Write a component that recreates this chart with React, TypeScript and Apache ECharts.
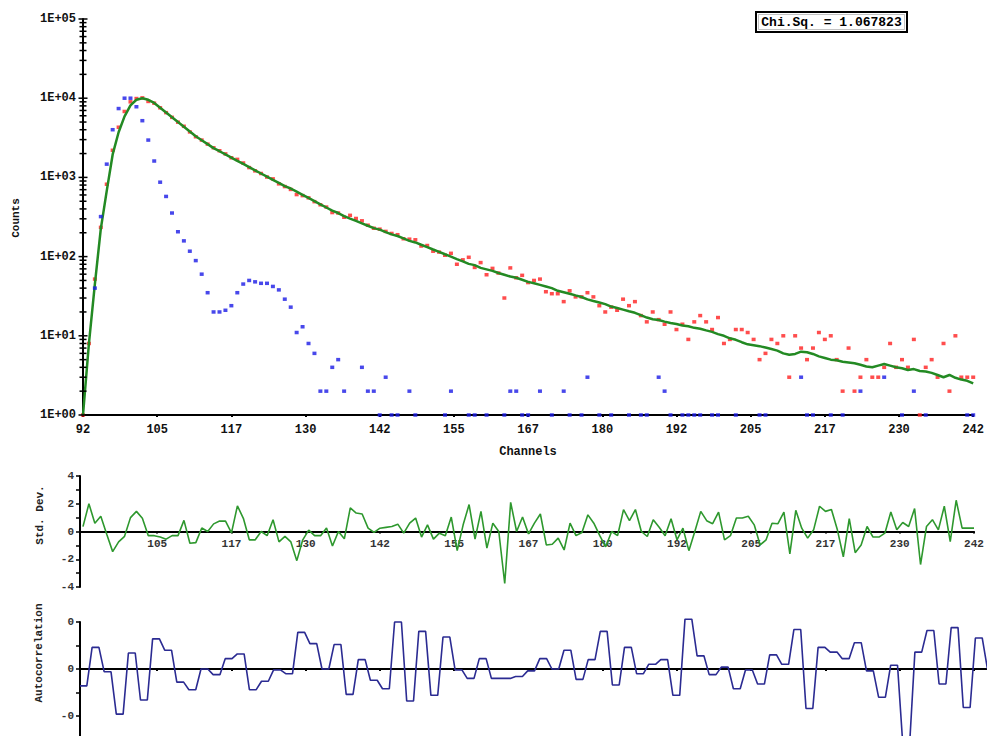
import React, { useEffect, useRef } from "react";
import * as echarts from "echarts";

// ---------- data ----------
const FIRST_CHANNEL = 92;
const X_TICKS = [92, 104.5, 117, 129.5, 142, 154.5, 167, 179.5, 192, 204.5, 217, 229.5, 242];
const DECADES = [1, 10, 100, 1000, 10000];
const MINOR_STEPS = [1, 2, 3, 4, 5, 6, 7, 8, 9];
const CHI_SQ = "Chi.Sq. = 1.067823";

// fitted decay (green), channels 92..242
const FIT = [
  1, 8, 45, 224, 676, 1950, 3720, 5890, 8130, 9550,
  10000, 9550, 8710, 7590, 6610, 5750, 5010, 4370, 3800, 3310,
  2950, 2630, 2340, 2140, 1950, 1780, 1620, 1480, 1350, 1230,
  1120, 1020, 933, 851, 776, 724, 661, 603, 550, 501,
  457, 417, 380, 355, 324, 302, 282, 263, 245, 229,
  219, 204, 191, 182, 170, 158, 151, 141, 132, 123,
  115, 107, 100, 93, 87, 81, 78, 72, 69, 66,
  62, 59, 56, 54, 51, 48, 46, 44, 42, 40,
  37, 35.5, 34, 32.4, 30.9, 28.8, 27.5, 26.3, 25.1, 23.4,
  22.4, 21.4, 20.4, 19.5, 18.2, 17.0, 16.2, 15.8, 15.1, 14.5,
  14.1, 13.5, 13.2, 12.6, 12.3, 11.7, 11.2, 10.5, 10.0, 9.3,
  8.9, 8.3, 7.8, 7.6, 7.4, 7.1, 6.8, 6.5, 6.0, 5.75,
  5.9, 6.3, 6.2, 5.9, 5.5, 5.25, 5.0, 4.9, 4.7, 4.6,
  4.5, 4.3, 4.1, 4.0, 4.2, 4.4, 4.2, 4.0, 3.9, 3.7,
  3.8, 3.6, 3.55, 3.4, 3.2, 3.0, 3.2, 2.95, 2.8, 2.7,
  2.5,
];

// measured decay (red), channels 92..242
const DECAY = [
  1, 8, 52, 234, 820, 2200, 4300, 6800, 9000, 9900,
  10100, 9100, 8650, 7560, 6570, 5730, 4980, 4420, 3750, 3260,
  2960, 2630, 2370, 2170, 1980, 1770, 1690, 1520, 1330, 1210,
  1120, 1010, 958, 829, 766, 705, 607, 589, 552, 494,
  451, 422, 360, 355, 314, 332, 303, 283, 249, 228,
  222, 208, 196, 189, 168, 166, 163, 136, 138, 117,
  114, 104, 110, 80, 91, 98, 73, 84, 59, 71,
  62, 30, 72, 54, 58, 47, 50, 52, 36, 34,
  34, 27, 37, 31, 31, 35, 31, 24, 20, 23,
  21, 29, 24, 27, 18, 15, 20, 16, 14, 20,
  12, 14, 9, 15, 18, 15, 12, 17, 8, 9,
  12, 12, 11, 9, 5, 6, 9, 8, 10, 3,
  10, 7, 5, 7, 11, 9, 10, 5, 2, 7,
  2, 3, 5, 3, 3, 4, 8, 4, 5, 4,
  9, 1, 4, 5, 3, 8, 2, 10, 3, 3,
  3,
];

// instrument response (blue), channels 92..242, null = no counts
const IRF = [
  null, null, 40, 320, 1470, 4000, 7400, 10000, 10000, 7800,
  5200, 2960, 1610, 870, 575, 355, 206, 158, 117, 89,
  60, 35, 20, 20, 21, 24, 35, 45, 50, 48,
  46, 46, 42, 38, 29, 23, 11, 13, 8, 6,
  2, 2, 4, 5, 2, null, null, 4, 2, 2,
  1, 3, 1, 1, null, 2, 1, null, null, null,
  null, 1, 2, null, null, 1, 1, null, 1, null,
  null, 1, 2, 2, 1, 1, null, 2, null, 1,
  null, 2, 1, null, 1, 3, null, 1, null, 1,
  null, null, 1, null, 1, 1, null, 3, 2, 1,
  null, 1, 1, 1, 1, null, 1, 1, null, null,
  1, null, null, null, 1, 1, null, null, null, null,
  null, 3, 1, 1, null, null, 1, null, 1, null,
  null, 2, null, null, null, 3, null, null, 1, null,
  2, null, 1, null, null, null, null, null, null, 1,
  1,
];

// weighted residuals, channels 92..242
const RESID = [
  0.35, 2.0, 0.6, 1.1, -0.2, -1.45, -0.75, -0.35, 1.0, 1.45,
  0.95, -0.3, -0.3, -0.4, -0.55, -0.3, -0.3, 0.8, -0.85, -0.8,
  0.25, 0.0, 0.55, 0.75, 0.75, -0.1, 1.85, 0.95, -0.6, -0.6,
  0.0, -0.3, 0.85, -0.75, -0.35, -0.75, -2.1, -0.6, 0.1, -0.3,
  -0.3, 0.25, -1.05, 0, -0.53, 1.7, 1.33, 1.26, 0.24, -0.07,
  0.24, 0.3, 0.36, 0.53, -0.12, 0.6, 0.97, -0.4, 0.48, -0.55,
  -0.12, -0.3, 1.04, -1.38, 0.48, 1.94, -0.55, 1.45, -1.2, 0.6,
  0, -3.75, 2.1, 0, 1.04, -0.17, 0.6, 1.26, -0.97, -0.92,
  -0.48, -1.33, 0.6, -0.3, -0.07, 1.2, 0.6, -0.3, -1.1, 0,
  -0.3, 1.58, 0.78, 1.58, 0, -0.36, 0.85, 0.3, -0.3, 0.92,
  -0.6, 0.24, -1.38, 0, 1.45, 0.78, 0.56, 1.4, -0.6, -0.3,
  0.97, 0.97, 1.1, 0.48, -0.97, -0.6, 0.6, 0.56, 1.4, -1.62,
  1.53, 0.24, -0.48, 0.12, 1.82, 1.45, 1.58, 0.12, -1.82, 0.92,
  -1.53, -0.97, 0.36, -0.4, -0.4, -0.12, 1.4, 0.12, 0.65, 0.36,
  1.65, -2.38, 0.36, 0.85, 0.12, 1.82, -0.73, 2.25, 0.24, 0.24,
  0.24,
];

// autocorrelation of residuals, lags 0..75
const ACF = [
  -0.18, 0.23, -0.03, -0.48, 0.17, -0.33, 0.32, 0.2, -0.14, -0.22,
  0, -0.06, 0.11, 0.16, -0.22, -0.13, -0.01, -0.05, 0.39, 0.27,
  0.0, 0.26, -0.27, 0.1, -0.12, -0.21, 0.5, -0.34, 0.4, -0.28,
  0.34, -0.01, -0.1, 0.11, -0.1, -0.1, -0.08, -0.02, 0.11, 0,
  0.2, -0.11, 0.1, 0.4, -0.17, 0.23, -0.05, 0.05, 0.1, -0.28,
  0.53, 0.14, -0.06, 0.02, -0.21, -0.01, -0.16, 0.15, 0.05, 0.42,
  -0.42, 0.23, 0.18, 0.11, 0.28, -0.02, -0.3, 0.04, -0.8, 0.18,
  0.41, -0.16, 0.44, -0.41, 0.33, 0,
];

// ---------- layout constants ----------
const CHART_H = 780; // taller than the window: the autocorrelation panel runs off the bottom
const ACF_X0 = 91.5;
const ACF_LAG_STEP = 2.037; // channels per lag on the plot
const ACF_HOLD = 1.15;
const FONT = '"Liberation Mono", "DejaVu Sans Mono", monospace';

function buildOption() {
  const ch = (i: number) => FIRST_CHANNEL + i;
  const fitData = FIT.map((v, i) => [ch(i), v]);
  const decayData = DECAY.map((v, i) => [ch(i), v]);
  const irfData: number[][] = [];
  IRF.forEach((v, i) => {
    if (v !== null) irfData.push([ch(i), v as number]);
  });
  const residData = RESID.map((v, i) => [ch(i), v]);
  const acfData: number[][] = [];
  ACF.forEach((v, k) => {
    const x = ACF_X0 + k * ACF_LAG_STEP;
    acfData.push([x, v]);
    acfData.push([x + ACF_HOLD, v]);
  });
  const yTicks: number[][] = [];
  DECADES.forEach((d) => MINOR_STEPS.forEach((m) => yTicks.push([FIRST_CHANNEL, m * d, m === 1 ? 1 : 0])));
  yTicks.push([FIRST_CHANNEL, 100000, 1]);

  const axisLine = { lineStyle: { color: "#000", width: 2 } };
  const labelBase = { fontFamily: FONT, fontWeight: "bold" as const, color: "#111" };
  const round = (v: number) => String(Math.round(v));

  // residual panel: top 476, bottom 587 -> zero line at 531.5
  const residTop = 476;
  const residBottomPx = 587;
  const residZeroOffset = -((residBottomPx - residTop) / 2);

  return {
    animation: false,
    backgroundColor: "#fff",
    grid: [
      { left: 83, right: 13, top: 19, bottom: CHART_H - 415 },
      { left: 80, right: 13, top: residTop, bottom: CHART_H - residBottomPx },
      { left: 80, right: 0, top: 622, bottom: CHART_H - 763 },
    ],
    xAxis: [
      {
        type: "value", gridIndex: 0, min: 92, max: 242,
        axisLine, splitLine: { show: false },
        axisTick: { show: true, customValues: X_TICKS, length: 2, lineStyle: { width: 2, color: "#000" } },
        axisLabel: { ...labelBase, fontSize: 12, margin: 9, customValues: X_TICKS, formatter: round },
      },
      {
        type: "value", gridIndex: 1, min: 91.5, max: 242, position: "bottom", offset: residZeroOffset,
        axisLine: { ...axisLine, onZero: false }, splitLine: { show: false },
        axisTick: { show: true, customValues: X_TICKS.slice(1), length: 2, lineStyle: { width: 2, color: "#000" } },
        axisLabel: { ...labelBase, fontSize: 11, color: "#333", margin: 7, customValues: X_TICKS.slice(1), formatter: round },
      },
      {
        type: "value", gridIndex: 2, min: 91.5, max: ACF_X0 + 907 / 5.94,
        axisLine: { ...axisLine, onZero: true }, splitLine: { show: false },
        axisTick: { show: true, customValues: X_TICKS.slice(1), length: 2, lineStyle: { width: 2, color: "#000" } },
        axisLabel: { show: false },
      },
    ],
    yAxis: [
      {
        type: "log", logBase: 10, gridIndex: 0, min: 1, max: 100000,
        axisLine, splitLine: { show: false }, axisTick: { show: false }, minorTick: { show: false },
        axisLabel: {
          ...labelBase, fontSize: 12, margin: 7,
          formatter: (v: number) => "1E+" + String(Math.round(Math.log10(v))).padStart(2, "0"),
        },
      },
      {
        type: "value", gridIndex: 1, min: -4, max: 4, interval: 1,
        axisLine, splitLine: { show: false },
        axisTick: { show: true, length: 4, lineStyle: { width: 1.5, color: "#000" } },
        axisLabel: { ...labelBase, fontSize: 11, color: "#333", margin: 6, formatter: (v: number) => (v % 2 === 0 ? String(v) : "") },
      },
      {
        type: "value", gridIndex: 2, min: -1, max: 0.5, interval: 0.25,
        axisLine, splitLine: { show: false },
        axisTick: { show: true, length: 4, lineStyle: { width: 1.5, color: "#000" } },
        axisLabel: {
          ...labelBase, fontSize: 11, color: "#333", margin: 6,
          formatter: (v: number) => (v === 0 || v === 0.5 ? "0" : v === -0.5 ? "-0" : ""),
        },
      },
    ],
    series: [
      {
        type: "scatter", name: "decay", xAxisIndex: 0, yAxisIndex: 0, data: decayData,
        symbol: "rect", symbolSize: [4, 3.5], itemStyle: { color: "#ff2020" }, z: 2,
      },
      {
        type: "line", name: "fit", xAxisIndex: 0, yAxisIndex: 0, data: fitData,
        showSymbol: false, lineStyle: { color: "#238a23", width: 2.5 }, z: 3,
      },
      {
        type: "scatter", name: "irf", xAxisIndex: 0, yAxisIndex: 0, data: irfData,
        symbol: "rect", symbolSize: [4, 3.5], itemStyle: { color: "#1a1ae6" }, z: 4,
      },
      {
        type: "custom", name: "yticks", xAxisIndex: 0, yAxisIndex: 0, data: yTicks, clip: false, z: 5,
        renderItem: (params: any, api: any) => {
          const p = api.coord([api.value(0), api.value(1)]);
          const half = api.value(2) ? 4.5 : 3.5;
          return {
            type: "line",
            shape: { x1: p[0] - half, y1: p[1], x2: p[0] + half, y2: p[1] },
            style: { stroke: "#000", lineWidth: 1.5 },
          };
        },
      },
      {
        type: "line", name: "residuals", xAxisIndex: 1, yAxisIndex: 1, data: residData,
        showSymbol: false, lineStyle: { color: "#2e982e", width: 1.6 },
      },
      {
        type: "line", name: "autocorrelation", xAxisIndex: 2, yAxisIndex: 2, data: acfData,
        showSymbol: false, clip: false, lineStyle: { color: "#2b2b92", width: 1.6 },
      },
    ],
    graphic: [
      {
        type: "rect", shape: { x: 756, y: 12, width: 151, height: 20 },
        style: { fill: "#fff", stroke: "#000", lineWidth: 2 }, z: 10,
      },
      {
        type: "rect", shape: { x: 758.5, y: 14.5, width: 146, height: 15 },
        style: { fill: "none", stroke: "#999", lineWidth: 0.6 }, z: 10,
      },
      {
        type: "text", x: 831.5, y: 22.5, z: 11,
        style: { text: CHI_SQ, font: `bold 13px ${FONT}`, fill: "#000", align: "center", verticalAlign: "middle" },
      },
      {
        type: "text", x: 16, y: 218, rotation: Math.PI / 2,
        style: { text: "Counts", font: `bold 11px ${FONT}`, fill: "#111", align: "center", verticalAlign: "middle" },
      },
      {
        type: "text", x: 528, y: 452,
        style: { text: "Channels", font: `bold 12px ${FONT}`, fill: "#111", align: "center", verticalAlign: "middle" },
      },
      {
        type: "text", x: 40, y: 515, rotation: Math.PI / 2,
        style: { text: "Std. Dev.", font: `bold 11px ${FONT}`, fill: "#222", align: "center", verticalAlign: "middle" },
      },
      {
        type: "text", x: 39, y: 653, rotation: Math.PI / 2,
        style: { text: "Autocorrelation", font: `bold 11px ${FONT}`, fill: "#222", align: "center", verticalAlign: "middle" },
      },
    ],
  };
}

export default function App() {
  const ref = useRef<HTMLDivElement>(null);
  useEffect(() => {
    if (!ref.current) return;
    const chart = echarts.init(ref.current, null, { renderer: "svg" });
    chart.setOption(buildOption() as any);
    return () => chart.dispose();
  }, []);
  return (
    <div
      ref={ref}
      style={{ position: "fixed", left: 0, top: 0, width: 987, height: CHART_H, background: "#fff" }}
    />
  );
}
